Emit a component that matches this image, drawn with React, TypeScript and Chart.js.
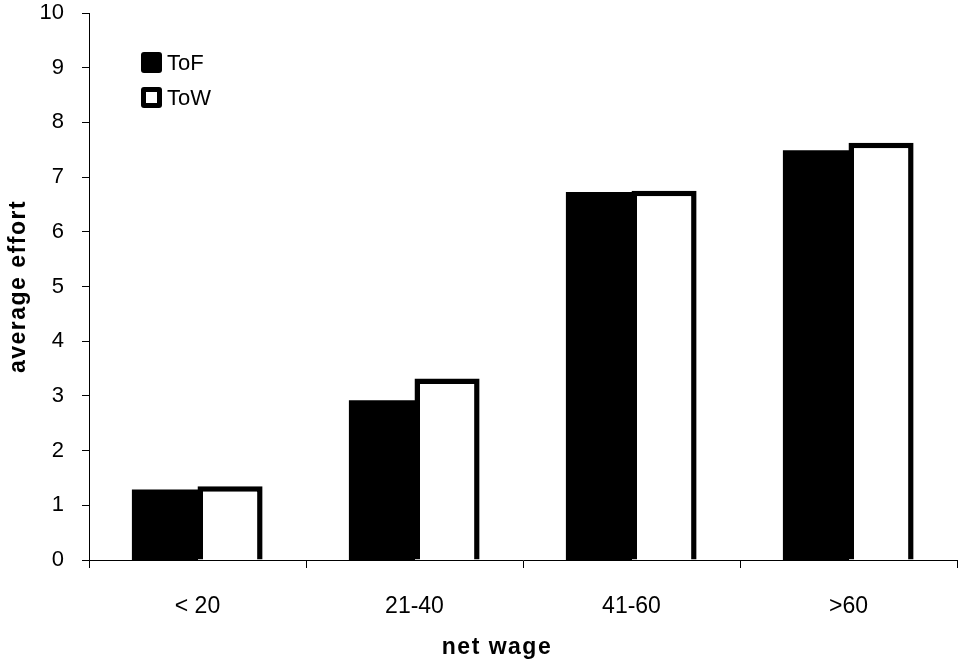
import React, { useEffect, useRef } from "react";
import { Chart, registerables } from "chart.js";

Chart.register(...registerables);

const categories = ["< 20", "21-40", "41-60", ">60"];
const seriesNames = ["ToF", "ToW"];
const tofValues = [1.28, 2.91, 6.72, 7.48];
const towValues = [1.35, 3.32, 6.75, 7.63];
const yTickValues = [0, 1, 2, 3, 4, 5, 6, 7, 8, 9, 10];
const xTitle = "net wage";
const yTitle = "average effort";

const FONT = "'Liberation Sans', Arial, Helvetica, sans-serif";

const insideLegend = {
  id: "insideLegend",
  afterDraw(chart: any) {
    const { ctx, chartArea } = chart;
    const x0 = chartArea.left + 52;
    const rows = [
      { y: 52, filled: true, label: seriesNames[0] },
      { y: 87, filled: false, label: seriesNames[1] },
    ];
    ctx.save();
    rows.forEach((r) => {
      ctx.fillStyle = "#000";
      ctx.beginPath();
      ctx.roundRect(x0, r.y, 21, 21, 3);
      ctx.fill();
      if (!r.filled) {
        ctx.fillStyle = "#fff";
        ctx.fillRect(x0 + 5, r.y + 5, 11, 11);
      }
      ctx.fillStyle = "#000";
      ctx.font = `22px ${FONT}`;
      ctx.textAlign = "left";
      ctx.textBaseline = "middle";
      ctx.fillText(r.label, x0 + 26, r.y + 11.5);
    });
    ctx.restore();
  },
};

const axisTitles = {
  id: "axisTitles",
  afterDraw(chart: any) {
    const { ctx, chartArea } = chart;
    ctx.save();
    ctx.fillStyle = "#000";
    ctx.font = `bold 23px ${FONT}`;
    (ctx as any).letterSpacing = "1.5px";
    ctx.textAlign = "center";
    ctx.textBaseline = "middle";
    ctx.fillText(xTitle, 497, 648);
    ctx.translate(19, (chartArea.top + chartArea.bottom) / 2);
    ctx.rotate(-Math.PI / 2);
    ctx.fillText(yTitle, 0, 0);
    ctx.restore();
  },
};

export default function App() {
  const canvasRef = useRef<HTMLCanvasElement | null>(null);

  useEffect(() => {
    document.body.style.margin = "0";
    const canvas = canvasRef.current;
    if (!canvas) return;
    const chart = new Chart(canvas, {
      type: "bar",
      data: {
        labels: categories,
        datasets: [
          {
            label: seriesNames[0],
            data: tofValues,
            backgroundColor: "#000",
            borderColor: "#000",
            borderWidth: 0,
            inflateAmount: 0.5,
          },
          {
            label: seriesNames[1],
            data: towValues,
            backgroundColor: "#fff",
            borderColor: "#000",
            borderWidth: 5.5,
            inflateAmount: 0,
          },
        ],
      },
      options: {
        animation: false,
        responsive: false,
        devicePixelRatio: 1,
        layout: { padding: { top: 13, right: 1, left: 0, bottom: 0 } },
        datasets: { bar: { categoryPercentage: 0.6, barPercentage: 1 } },
        plugins: {
          legend: { display: false },
          tooltip: { enabled: false },
        },
        scales: {
          x: {
            grid: {
              display: true,
              drawOnChartArea: false,
              drawTicks: true,
              tickLength: 8,
              color: "#000",
              offset: true,
            },
            border: { display: true, color: "#000", width: 1 },
            ticks: {
              color: "#000",
              font: { family: FONT, size: 23 },
              padding: 25,
              maxRotation: 0,
            },
            title: { display: false },
            afterFit(scale: any) {
              scale.height = 99;
              scale.paddingLeft = 0;
              scale.paddingRight = 0;
            },
          },
          y: {
            min: 0,
            max: 10,
            afterBuildTicks(scale: any) {
              scale.ticks = yTickValues.map((v) => ({ value: v }));
            },
            grid: {
              display: true,
              drawOnChartArea: false,
              drawTicks: true,
              tickLength: 7,
              color: "#000",
            },
            border: { display: true, color: "#000", width: 1 },
            ticks: {
              color: "#000",
              font: { family: FONT, size: 22 },
              padding: 18,
            },
            title: { display: false },
            afterFit(scale: any) {
              scale.width = 89;
              scale.paddingTop = 0;
              scale.paddingBottom = 0;
            },
          },
        },
      },
      plugins: [insideLegend, axisTitles],
    });
    return () => chart.destroy();
  }, []);

  return (
    <div style={{ width: 958, height: 659, position: "relative" }}>
      <canvas ref={canvasRef} width={958} height={659} style={{ display: "block" }} />
    </div>
  );
}
